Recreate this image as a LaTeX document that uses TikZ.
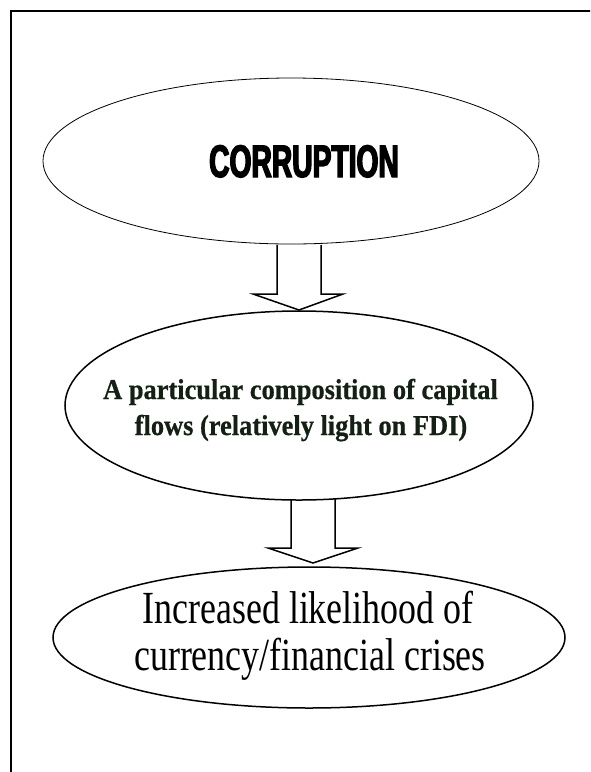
\documentclass[tikz,border=0pt]{standalone}
\usepackage{fontspec}
\usetikzlibrary{shapes.geometric}
\newfontfamily\corrfont[FakeStretch=0.62,FakeBold=3]{Liberation Sans Bold}
\newfontfamily\midfont[FakeStretch=0.92,FakeBold=0.6]{Liberation Serif Bold}
\newfontfamily\botfont[FakeStretch=0.78]{Liberation Serif}
\definecolor{midtext}{HTML}{142014}
\tikzset{
  oval/.style={draw=black, ellipse, inner sep=0pt},
  blockarrow/.style={draw=black, line width=1.5pt, line join=miter},
  frameline/.style={draw=black, line width=2pt},
  txt/.style={inner sep=0pt, anchor=base, text=black}
}
\begin{document}
\begin{tikzpicture}[x=1pt,y=-1pt]
\useasboundingbox (0,0) rectangle (590,772);
\fill[white] (0,0) rectangle (590,772);
% frame (runs past right and bottom edges)
\begin{scope}
\clip (0,0) rectangle (590,772);
\draw[frameline] (11,800) -- (11,11) -- (620,11);
\end{scope}
% ellipses
\node[oval, line width=0.8pt, minimum width=496pt, minimum height=166pt] (e1) at (291,161) {};
\node[oval, line width=1.5pt, minimum width=468pt, minimum height=189pt] (e2) at (299,405.5) {};
\node[oval, line width=1.5pt, minimum width=512pt, minimum height=141pt] (e3) at (309,637.5) {};
% texts
\node[txt, font=\corrfont\fontsize{45.5}{50}\selectfont] (t1) at (304,177) {CORRUPTION};
\node[txt, text=midtext, font=\midfont\fontsize{28.7}{34}\selectfont] (t2a) at (300.5,399) {A particular composition of capital};
\node[txt, text=midtext, font=\midfont\fontsize{28.7}{34}\selectfont] (t2b) at (301,435) {flows (relatively light on FDI)};
\node[txt, font=\botfont\fontsize{46}{50}\selectfont] (t3a) at (308,623) {Increased likelihood of};
\node[txt, font=\botfont\fontsize{46}{50}\selectfont] (t3b) at (310,670) {currency/financial crises};
% block arrows
\coordinate (a1) at (299,245);
\coordinate (a2) at (313,499);
\draw[blockarrow, shift={(a1)}] (-22,0) -- (-22,49) -- (-46,49) -- (0,65) -- (44,49) -- (22,49) -- (22,0);
\draw[blockarrow, shift={(a2)}] (-22,0) -- (-22,49) -- (-45,49) -- (0,64) -- (45,49) -- (22,49) -- (22,0);
\end{tikzpicture}
\end{document}
